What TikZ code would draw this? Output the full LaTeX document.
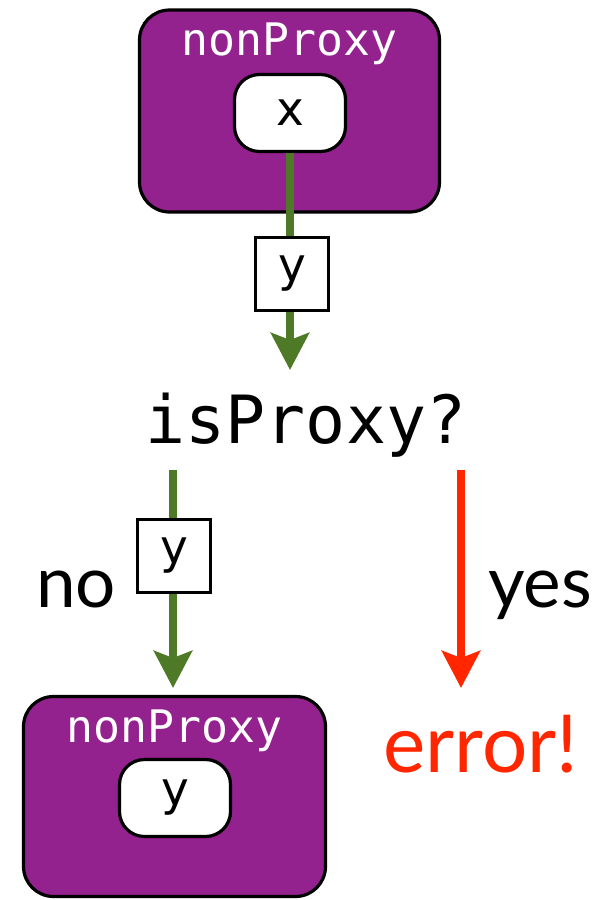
\documentclass[tikz,border=0pt]{standalone}
\usepackage{fontspec}
\setmainfont{Lato}
\newfontfamily\monofont{DejaVu Sans Mono}
\newfontfamily\boxfont{DejaVu Sans}
\usetikzlibrary{arrows.meta}
\definecolor{proxypurple}{RGB}{147,33,142}
\definecolor{flowgreen}{RGB}{78,122,39}
\definecolor{errred}{RGB}{255,38,0}
\tikzset{
  container/.style={draw=black, line width=3.2pt, fill=proxypurple, rounded corners=30pt,
    minimum width=300pt, minimum height=202pt, inner sep=0pt},
  slot/.style={draw=black, line width=3.2pt, fill=white, rounded corners=25pt,
    minimum width=111pt, minimum height=77pt, inner sep=0pt,
    font=\boxfont\fontsize{47}{47}\selectfont},
  tag/.style={draw=black, line width=3pt, fill=white, minimum size=73pt, inner sep=0pt,
    font=\boxfont\fontsize{47}{47}\selectfont},
  title/.style={text=white, anchor=base, inner sep=0pt, font=\monofont\fontsize{44.8}{44.8}\selectfont},
  question/.style={anchor=base, inner sep=0pt, font=\monofont\fontsize{66.5}{66.5}\selectfont},
  answer/.style={anchor=base, inner sep=0pt, font=\fontsize{71}{71}\selectfont},
  flow/.style={line width=8pt, -{Stealth[length=37pt, width=38pt, inset=7pt]}},
}
\begin{document}
\begin{tikzpicture}[x=1pt, y=-1pt]
  \useasboundingbox (0,0) rectangle (603,900);

  % upper container holding x
  \node[container] (topbox) at (289.5,111) {};
  \node[title] (toptitle) at (289.5,55) {nonProxy};
  \node[slot] (xslot) at (290,113) {x};

  % test
  \node[question] (test) at (306,443) {isProxy?};

  % lower container holding y
  \node[container, minimum width=302pt, minimum height=200pt] (botbox) at (174.5,796.5) {};
  \node[title] (bottitle) at (174.5,742) {nonProxy};
  \node[slot] (yslot) at (175,798) {y};

  \node[answer, text=errred, font=\fontsize{80}{80}\selectfont] (err) at (481,772) {error!};
  \node[answer] (no) at (76,607) {no};
  \node[answer] (yes) at (540,607) {yes};

  % arrow ends
  \coordinate (tip1) at (290,370);
  \coordinate (src2) at (173,470);
  \coordinate (tip2) at (173,688);
  \coordinate (src3) at (461,470);
  \coordinate (tip3) at (461,688);

  \draw[flow, flowgreen] (xslot.south) -- (tip1);
  \node[tag] (tag1) at (292,274) {y};

  \draw[flow, flowgreen] (src2) -- (tip2);
  \node[tag] (tag2) at (174,556) {y};

  \draw[flow, errred] (src3) -- (tip3);
\end{tikzpicture}
\end{document}
